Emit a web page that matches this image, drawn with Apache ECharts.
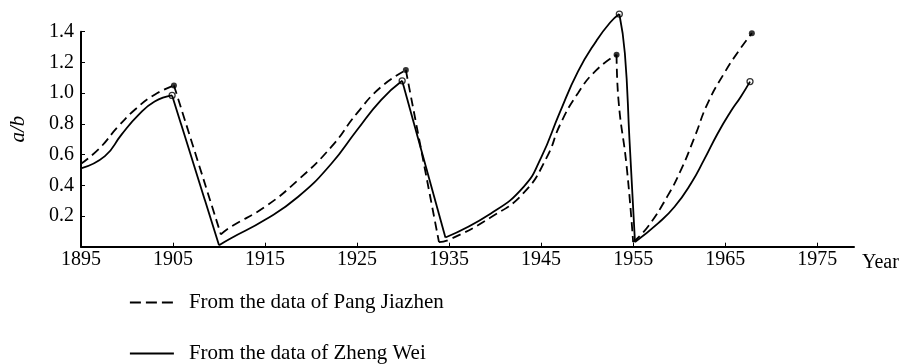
<!DOCTYPE html>
<html>
<head>
<meta charset="utf-8">
<script src="https://cdn.jsdelivr.net/npm/echarts@6/dist/echarts.min.js"></script>
<style>
html,body{margin:0;padding:0;background:#fff;}
#chart{width:907px;height:364px;}
</style>
</head>
<body>
<div id="chart"></div>
<script>
// Data (year, a/b)
const pangData = [
  [1895, 0.54], [1897, 0.64], [1899, 0.78], [1901, 0.90], [1903, 0.99], [1905.1, 1.05],
  [1910.2, 0.08], [1911.3, 0.13], [1915, 0.26], [1918.6, 0.435], [1922.2, 0.65], [1925, 0.87], [1927.6, 1.04], [1930.3, 1.15],
  [1933.9, 0.03], [1935, 0.045], [1939.5, 0.19], [1943.1, 0.35], [1945.6, 0.58], [1947.1, 0.80], [1949, 1.0], [1951, 1.15], [1953.2, 1.25],
  [1953.4, 0.96], [1954.3, 0.52], [1955.0, 0.03], [1956.6, 0.13], [1958.7, 0.326], [1960.2, 0.50], [1961.7, 0.717], [1963.1, 0.934],
  [1964.9, 1.13], [1966.3, 1.26], [1967.9, 1.39]
];
const zhengData = [
  [1895, 0.51], [1897.6, 0.59], [1899.4, 0.73], [1901.2, 0.855], [1903, 0.945], [1904.9, 0.985],
  [1910, 0.01], [1911.3, 0.055], [1915, 0.175], [1918.6, 0.325], [1922.2, 0.54], [1925, 0.76], [1927.6, 0.955], [1929.9, 1.08],
  [1934.6, 0.06], [1939.5, 0.215], [1943.1, 0.39], [1945, 0.58], [1947, 0.87], [1949, 1.14], [1951, 1.34], [1952.5, 1.46], [1953.5, 1.515],
  [1954.1, 1.26], [1954.6, 0.7], [1955.2, 0.03], [1957.7, 0.152], [1959.5, 0.26], [1961.3, 0.413], [1962.7, 0.565], [1964.2, 0.739],
  [1965.6, 0.88], [1966.7, 0.977], [1967.7, 1.075]
];
const pangPeaks = [[1905.1, 1.05], [1930.3, 1.15], [1953.2, 1.25], [1967.9, 1.39]];
const zhengPeaks = [[1904.9, 0.985], [1929.9, 1.08], [1953.5, 1.515], [1967.7, 1.075]];
const seriesNames = ['From the data of Pang Jiazhen', 'From the data of Zheng Wei'];
const xAxisName = 'Year';
const yAxisName = 'a/b';

// split a polyline into monotone (rising / falling) pieces so each can be smoothed
function splitMonotone(data) {
  const segs = [];
  let cur = [data[0]];
  let dir = 0;
  for (let i = 1; i < data.length; i++) {
    const d = Math.sign(data[i][1] - data[i - 1][1]);
    if (dir !== 0 && d !== dir) {
      segs.push(cur);
      cur = [data[i - 1]];
    }
    cur.push(data[i]);
    dir = d;
  }
  segs.push(cur);
  return segs;
}

const FONT = '"Liberation Serif", "DejaVu Serif", serif';
const lineSeries = [];
function addLine(name, data, lineStyle) {
  splitMonotone(data).forEach(seg => {
    lineSeries.push({
      name: name, type: 'line', data: seg, symbol: 'none', clip: false, smooth: 0.5,
      lineStyle: Object.assign({color: '#000', width: 1.8}, lineStyle), itemStyle: {color: '#000'}
    });
  });
}
addLine(seriesNames[0], pangData, {type: [9, 5]});
addLine(seriesNames[1], zhengData, {type: 'solid'});

const chart = echarts.init(document.getElementById('chart'), null, {renderer: 'canvas'});
chart.setOption({
  animation: false,
  backgroundColor: '#fff',
  textStyle: {fontFamily: FONT, color: '#000'},
  grid: {left: 79, right: 53, top: 31.7, bottom: 117.3},
  legend: {
    orient: 'vertical', left: 129, top: 292, padding: 0, itemWidth: 44, itemHeight: 14, itemGap: 30,
    itemStyle: {color: 'rgba(0,0,0,0)', borderWidth: 0},
    lineStyle: {color: '#000', width: 1.8},
    textStyle: {fontFamily: FONT, fontSize: 21, color: '#000', padding: [0, 0, 0, 10]},
    data: [
      {name: seriesNames[0], lineStyle: {type: [11, 5]}},
      {name: seriesNames[1]}
    ]
  },
  xAxis: {
    type: 'value', min: 1895, max: 1979, interval: 10,
    name: xAxisName, nameLocation: 'end', nameGap: 8,
    nameTextStyle: {fontFamily: FONT, fontSize: 20, color: '#000', verticalAlign: 'top', padding: [6, 0, 0, 0]},
    axisLine: {lineStyle: {color: '#000', width: 2}},
    axisTick: {inside: true, length: 4, lineStyle: {color: '#000'}},
    axisLabel: {fontFamily: FONT, fontSize: 20, color: '#000', margin: 3, showMaxLabel: false,
      formatter: v => String(Math.round(v))},
    splitLine: {show: false}
  },
  yAxis: {
    type: 'value', min: 0, max: 1.4, interval: 0.2,
    name: yAxisName, nameLocation: 'middle', nameGap: 52, nameRotate: 90,
    nameTextStyle: {fontFamily: FONT, fontSize: 21, fontStyle: 'italic', color: '#000', padding: [0, 0, 0, 20]},
    axisLine: {show: true, lineStyle: {color: '#000', width: 2}},
    axisTick: {show: true, inside: true, length: 4, lineStyle: {color: '#000'}},
    axisLabel: {fontFamily: FONT, fontSize: 20, color: '#000', margin: 7, showMinLabel: false,
      formatter: v => v.toFixed(1)},
    splitLine: {show: false}
  },
  series: lineSeries.concat([
    {
      name: 'pangPeaks', type: 'scatter', data: pangPeaks, symbol: 'circle', symbolSize: 6, clip: false,
      itemStyle: {color: '#000'}, silent: true
    },
    {
      name: 'zhengPeaks', type: 'scatter', data: zhengPeaks, symbol: 'circle', symbolSize: 6, clip: false,
      itemStyle: {color: '#fff', borderColor: '#000', borderWidth: 1.3}, silent: true
    }
  ])
});
</script>
</body>
</html>
